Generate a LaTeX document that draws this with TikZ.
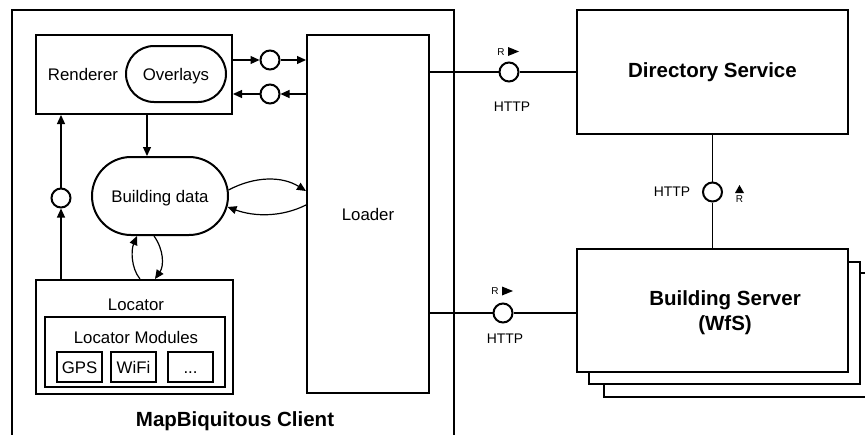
\documentclass[tikz,border=0pt]{standalone}
\usepackage{fontspec}
\setmainfont{Liberation Sans}
\usetikzlibrary{arrows.meta}
\begin{document}
\begin{tikzpicture}[x=1pt,y=-1pt,
  box/.style={draw,line width=2pt,inner sep=0pt,fill=white},
  port/.style={draw,circle,line width=2pt,minimum size=19pt,inner sep=0pt,fill=white},
  conn/.style={line width=1.2pt},
  arr/.style={conn,-{Triangle[length=9pt,width=8pt]}},
  txt/.style={font=\fontsize{16.8}{20}\selectfont,inner sep=0pt,text height=12pt,text depth=0pt},
  btxt/.style={font=\fontsize{20.5}{25}\selectfont\bfseries,inner sep=0pt,align=center},
  smalltxt/.style={font=\fontsize{13.9}{16}\selectfont,inner sep=0pt},
  tinytxt/.style={font=\fontsize{10}{12}\selectfont,inner sep=0pt},
]
\useasboundingbox (0,0) rectangle (865,434);
\clip (0,0) rectangle (865,434);

% client frame
\node[box,fill=none,minimum width=442pt,minimum height=434pt] (client) at (233,227) {};
\node[btxt] (clientlabel) at (235,421) {MapBiquitous Client};

% renderer
\node[box,minimum width=196pt,minimum height=79pt] (renderer) at (134,74.5) {};
\node[txt] (rendererlabel) at (83,74) {Renderer};
\node[box,rounded corners=28pt,minimum width=100pt,minimum height=56pt,txt] (overlays) at (176,74) {Overlays};

% loader
\node[box,minimum width=122pt,minimum height=358pt,txt] (loader) at (368,214) {Loader};

% ports inside client
\node[port] (c1) at (270,60) {};
\node[port] (c2) at (270,94) {};
\node[port] (c3) at (61,198) {};

% building data
\node[box,rounded corners=39pt,minimum width=136pt,minimum height=78pt,txt] (bdata) at (160,196) {Building data};

% locator
\node[box,minimum width=197pt,minimum height=114pt] (locator) at (134.5,337) {};
\node[txt] (locatorlabel) at (136,304) {Locator};
\node[box,minimum width=180pt,minimum height=70pt] (modules) at (135,352) {};
\node[txt] (moduleslabel) at (136,337) {Locator Modules};
\node[box,minimum width=45pt,minimum height=30pt,txt] (gps) at (79.5,367) {GPS};
\node[box,minimum width=45pt,minimum height=30pt,txt] (wifi) at (133.5,367) {WiFi};
\node[box,minimum width=45pt,minimum height=30pt,txt] (dots) at (190.5,367) {...};

% arrows within client
\draw[arr] (renderer.east |- c1) -- (c1.west);
\draw[arr] (c1.east) -- (loader.west |- c1);
\draw[arr] (loader.west |- c2) -- (c2.east);
\draw[arr] (c2.west) -- (renderer.east |- c2);
\draw[arr] ([xshift=13pt]renderer.south) -- ([xshift=13pt]renderer.south |- bdata.north);
\draw[arr] (locator.north -| c3) -- (c3.south);
\draw[arr] (c3.north) -- (renderer.south -| c3);
\draw[arr] ([shift={(-0.5,-6)}]bdata.east) .. controls (255,176) and (282,176) .. ([shift={(0,-23)}]loader.west);
\draw[arr] ([shift={(0,-9)}]loader.west) .. controls (282,217) and (255,217) .. ([shift={(-1.5,11)}]bdata.east);
\draw[arr] ([xshift=5.5pt]locator.north) .. controls (131,268) and (131,250) .. ([xshift=-23pt]bdata.south);
\draw[arr] ([xshift=-6pt]bdata.south) .. controls (164,250) and (164,266) .. ([xshift=20.5pt]locator.north);

% right side
\node[box,minimum width=271pt,minimum height=124pt,btxt] (directory) at (712.5,72) {Directory Service};
\node[box,minimum width=280pt,minimum height=124pt] (server3) at (744,335) {};
\node[box,minimum width=271pt,minimum height=122pt] (server2) at (724.5,323) {};
\node[box,minimum width=271pt,minimum height=123pt] (server) at (712.5,310.5) {};
\node[btxt] (serverlabel) at (725,313) {Building Server\\(WfS)};

\node[port] (c4) at (509,72) {};
\node[port] (c5) at (712.5,192) {};
\node[port] (c6) at (503,313) {};

\draw[conn] (loader.east |- c4) -- (c4.west);
\draw[conn] (c4.east) -- (directory.west |- c4);
\draw[conn] (directory.south) -- (c5.north);
\draw[conn] (c5.south) -- (server.north -| c5);
\draw[conn] (loader.east |- c6) -- (c6.west);
\draw[conn] (c6.east) -- (server.west |- c6);

% port labels
\node[tinytxt] (r4) at (501,52) {R};
\fill (508,47) -- (519,51.5) -- (508,56) -- cycle;
\node[smalltxt] (h4) at (512,107) {HTTP};

\node[smalltxt] (h5) at (672,192) {HTTP};
\fill (735,193) -- (739.5,185) -- (744,193) -- cycle;
\node[tinytxt] (r5) at (739.5,199) {R};

\node[tinytxt] (r6) at (495,291) {R};
\fill (502,286.5) -- (513,291) -- (502,295.5) -- cycle;
\node[smalltxt] (h6) at (505,339) {HTTP};
\end{tikzpicture}
\end{document}
